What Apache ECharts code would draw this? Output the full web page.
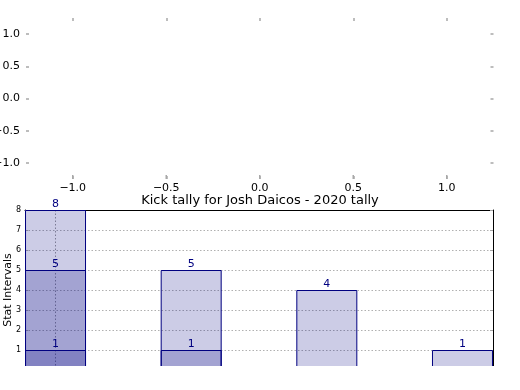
<!DOCTYPE html>
<html><head><meta charset="utf-8">
<script src="https://cdn.jsdelivr.net/npm/echarts@6/dist/echarts.min.js"></script>
<style>html,body{margin:0;padding:0;background:#fff}#c{width:520px;height:390px}</style>
</head><body><div id="c"></div>
<script>
// ---- data ----
const topTicks = [-1.0, -0.5, 0.0, 0.5, 1.0];
const barX = [0, 1, 2, 3];
const tallyAll = [8, 5, 4, 1];
const tallyMid = [5, 1, null, null];
const tallyLow = [1, null, null, null];
const yTicks = [1, 2, 3, 4, 5, 6, 7, 8];
const xGridTicks = [0];
const titleText = 'Kick tally for Josh Daicos - 2020 tally';
const yName = 'Stat Intervals';

const FONT = 'DejaVu Sans';
const tickGrey = '#a8a8a8';
const navy = '#000080';
const fill = 'rgba(0,0,128,0.2)';
const TOP_MIN = -1.25, TOP_MAX = 1.25;
const fmt = v => (v < 0 ? '\u2212' : '') + Math.abs(v).toFixed(1);

function topAxis(grid, pos, showLabel, showTick) {
  return {
    type: 'value', gridIndex: grid, position: pos, min: TOP_MIN, max: TOP_MAX,
    axisLine: {show: false, onZero: false}, splitLine: {show: false},
    axisTick: {show: showTick, inside: true, length: 3, customValues: topTicks, lineStyle: {color: tickGrey, width: 1.5}},
    axisLabel: {show: showLabel, customValues: topTicks, formatter: fmt, color: '#000', fontFamily: FONT, fontSize: 11, margin: 6}
  };
}

function barSeries(data) {
  return {
    type: 'bar', xAxisIndex: 2, yAxisIndex: 2,
    data: data.map((v, i) => v == null ? null : [barX[i], v]),
    barWidth: 61, barGap: '-100%',
    itemStyle: {color: fill, borderColor: navy, borderWidth: 1},
    label: {show: true, position: 'top', distance: 0, color: navy, fontFamily: FONT, fontSize: 11,
      formatter: p => String(p.value[1])}
  };
}

const xLabelAxis = topAxis(2, 'bottom', true, false);
xLabelAxis.axisLabel.margin = 3;

const chart = echarts.init(document.getElementById('c'), null, {renderer: 'canvas'});
chart.setOption({
  animation: false,
  backgroundColor: '#fff',
  title: {text: titleText, left: 'center', top: 189, textStyle: {fontFamily: FONT, fontSize: 13, fontWeight: 'normal', color: '#000'}},
  grid: [
    {left: 26, right: 26.5, top: 18, height: 161, outerBoundsMode: 'none', containLabel: false},
    {left: 25, right: 27, top: 210, height: 160, outerBoundsMode: 'none', containLabel: false},
    {left: 26, right: 26.5, top: 179, height: 1, outerBoundsMode: 'none', containLabel: false}
  ],
  graphic: [{type: 'rect', shape: {x: 0, y: 366, width: 520, height: 24}, style: {fill: '#fff'}, z: 100, silent: true}],
  xAxis: [
    topAxis(0, 'bottom', false, true),
    topAxis(0, 'top', false, true),
    {type: 'value', gridIndex: 1, position: 'bottom', min: -0.225, max: 3.225,
      axisLine: {show: false, onZero: false}, axisLabel: {show: false},
      axisTick: {show: false, customValues: xGridTicks},
      splitLine: {show: true, lineStyle: {color: '#9a9a9a', type: [1.5, 2], width: 1}}},
    {type: 'value', gridIndex: 1, position: 'top', min: -0.225, max: 3.225,
      axisLine: {show: true, onZero: false, lineStyle: {color: '#000', width: 1}},
      axisLabel: {show: false}, axisTick: {show: false}, splitLine: {show: false}},
    xLabelAxis
  ],
  yAxis: [
    topAxis(0, 'left', true, true),
    topAxis(0, 'right', false, true),
    {type: 'value', gridIndex: 1, position: 'left', min: 0, max: 8,
      name: yName, nameLocation: 'middle', nameGap: 11, nameMoveOverlap: false,
      nameTextStyle: {fontFamily: FONT, fontSize: 11, color: '#000'},
      axisLine: {show: true, onZero: false, lineStyle: {color: '#000', width: 1}},
      axisTick: {show: true, inside: true, length: 3, customValues: yTicks, lineStyle: {color: tickGrey}},
      axisLabel: {show: true, customValues: yTicks, color: '#000', fontFamily: FONT, fontSize: 8, margin: 4},
      splitLine: {show: true, lineStyle: {color: '#b0b0b0', type: [1.5, 2], width: 1}}},
    {type: 'value', gridIndex: 1, position: 'right', min: 0, max: 8,
      axisLine: {show: true, onZero: false, lineStyle: {color: '#000', width: 1}},
      axisTick: {show: true, inside: true, length: 3, customValues: yTicks, lineStyle: {color: tickGrey}},
      axisLabel: {show: false}, splitLine: {show: false}},
    {type: 'value', gridIndex: 2, min: 0, max: 1, show: false}
  ],
  series: [
    {type: 'scatter', xAxisIndex: 0, yAxisIndex: 0, silent: true, clip: false, z: 10,
      data: topTicks.map(v => [v, TOP_MIN]),
      symbol: 'rect', symbolSize: [1.5, 4], symbolOffset: [0, -2],
      itemStyle: {color: tickGrey, opacity: 1}},
    {type: 'scatter', xAxisIndex: 4, yAxisIndex: 4, data: []},
    barSeries(tallyAll),
    barSeries(tallyMid),
    barSeries(tallyLow)
  ]
});
</script></body></html>
